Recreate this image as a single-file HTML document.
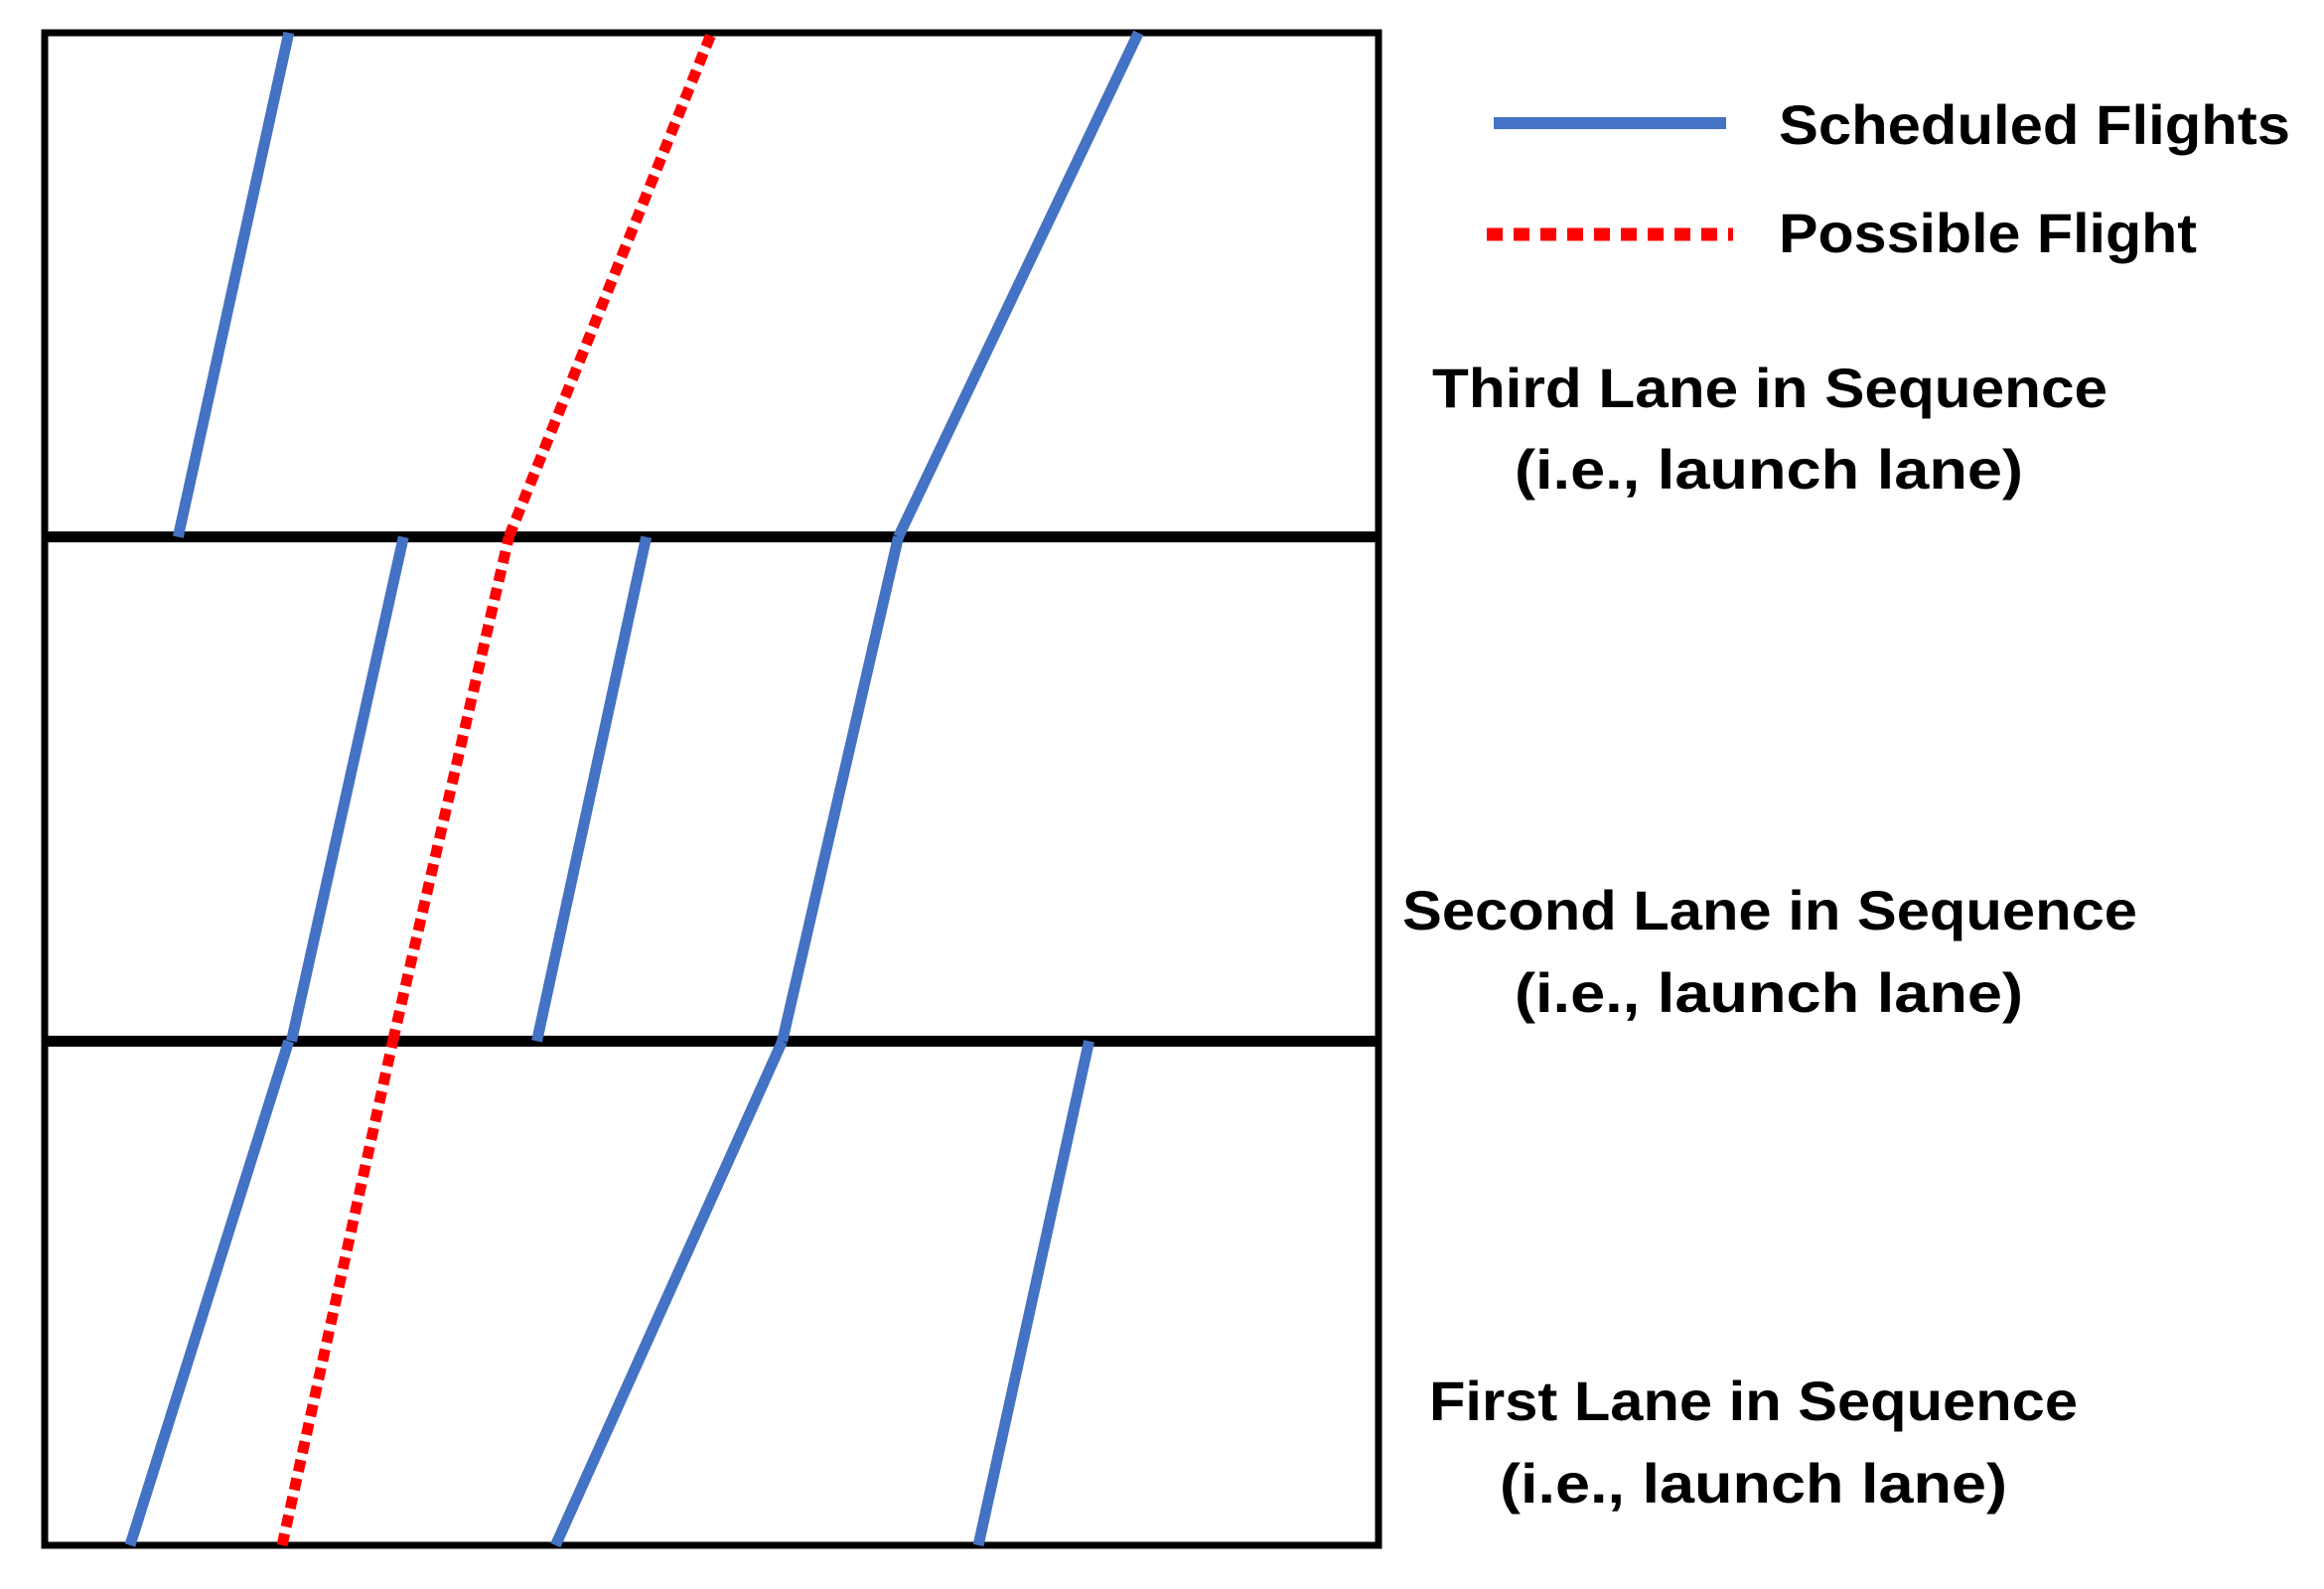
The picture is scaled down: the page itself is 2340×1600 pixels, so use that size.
<!DOCTYPE html>
<html><head><meta charset="utf-8"><style>
html,body{margin:0;padding:0;background:#fff;}
svg{display:block;}
text{font-family:"Liberation Sans",sans-serif;font-weight:bold;fill:#000;}
</style></head><body>
<svg id="chart" width="2340" height="1600" viewBox="0 0 2340 1600" xmlns="http://www.w3.org/2000/svg">
<rect x="0" y="0" width="2340" height="1600" fill="#fff"/>
<g id="marks"></g>
<g>
<line x1="1504" y1="124" x2="1738" y2="124" stroke="#4472c4" stroke-width="12"/>
<line x1="1497" y1="236" x2="1745" y2="236" stroke="#ff0000" stroke-width="13" stroke-dasharray="16 11"/>
<text x="1791" y="145" font-size="56" textLength="515" lengthAdjust="spacingAndGlyphs">Scheduled Flights</text>
<text x="1791" y="254" font-size="56" textLength="421" lengthAdjust="spacingAndGlyphs">Possible Flight</text>
</g>
<g>
<text x="1442" y="410" font-size="56" textLength="680" lengthAdjust="spacingAndGlyphs">Third Lane in Sequence</text>
<text x="1525" y="492" font-size="56" textLength="512" lengthAdjust="spacingAndGlyphs">(i.e., launch lane)</text>
<text x="1412" y="936" font-size="56" textLength="740" lengthAdjust="spacingAndGlyphs">Second Lane in Sequence</text>
<text x="1525" y="1019" font-size="56" textLength="512" lengthAdjust="spacingAndGlyphs">(i.e., launch lane)</text>
<text x="1439" y="1430" font-size="56" textLength="653" lengthAdjust="spacingAndGlyphs">First Lane in Sequence</text>
<text x="1510" y="1513" font-size="56" textLength="511" lengthAdjust="spacingAndGlyphs">(i.e., launch lane)</text>
</g>
</svg>
<script>
// lane index 0 = first (bottom), 2 = third (top); times 0..100 across box
const scheduledLane = [2, 2, 1, 1, 1, 0, 0, 0];
const scheduledStart = [10.0, 64.0, 18.5, 36.9, 55.3, 6.4, 38.3, 70.0];
const scheduledEnd = [18.3, 82.0, 26.9, 45.1, 64.0, 18.3, 55.3, 78.3];
const possibleLane = [0, 1, 2];
const possibleStart = [17.8, 26.1, 34.8];
const possibleEnd = [26.1, 34.8, 50.0];
const laneCount = 3;

const L = 45, R = 1388, T = 33, B = 1556;
const NS = 'http://www.w3.org/2000/svg';
const g = document.getElementById('marks');
function xScale(t){ return L + t * (R - L) / 100; }
function laneBottom(i){ return B - i * (B - T) / laneCount; }
function laneTop(i){ return B - (i + 1) * (B - T) / laneCount; }
function mk(tag, attrs){ const e = document.createElementNS(NS, tag); for (const k in attrs) e.setAttribute(k, attrs[k]); g.appendChild(e); return e; }

const box = mk('rect', {x: L, y: T, width: R - L, height: B - T, fill: 'none', stroke: '#000', 'stroke-width': 7});


for (let i = 1; i < laneCount; i++) {
  const d = mk('line', {x1: L, x2: R, y1: laneBottom(i), y2: laneBottom(i), stroke: '#000', 'stroke-width': 11});
  
  
}
for (let i = 0; i < scheduledLane.length; i++) {
  const ln = scheduledLane[i];
  const s = mk('line', {x1: xScale(scheduledStart[i]), y1: laneBottom(ln), x2: xScale(scheduledEnd[i]), y2: laneTop(ln), stroke: '#4472c4', 'stroke-width': 11});
  
  
}
for (let i = 0; i < possibleLane.length; i++) {
  const ln = possibleLane[i];
  const p = mk('line', {x1: xScale(possibleStart[i]), y1: laneBottom(ln), x2: xScale(possibleEnd[i]), y2: laneTop(ln), stroke: '#ff0000', 'stroke-width': 11, 'stroke-dasharray': '12 7'});
  
  
}
</script>
</body></html>
